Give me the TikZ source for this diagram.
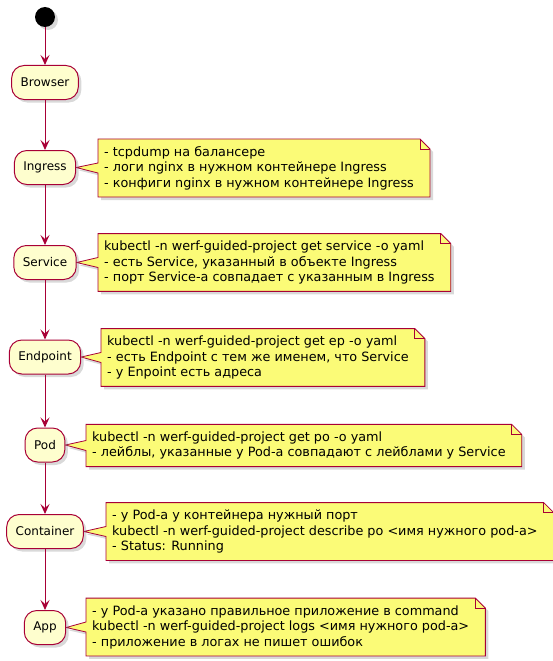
\documentclass[tikz,border=0pt]{standalone}
\usepackage{fontspec}
\setmainfont{DejaVu Sans}
\usetikzlibrary{arrows.meta,shadows,backgrounds}
\definecolor{umlred}{HTML}{A80036}
\definecolor{umlbox}{HTML}{FEFECE}
\definecolor{umlnote}{HTML}{FBFB77}
\tikzset{
  act/.style={draw=umlred, fill=umlbox, line width=1pt, rounded corners=12.5pt,
    minimum height=34pt, inner xsep=9pt, font=\fontsize{12}{14}\selectfont,
    drop shadow={opacity=0.3, shadow xshift=3pt, shadow yshift=-3pt}},
  notetext/.style={anchor=west, inner sep=0pt, align=left,
    font=\fontsize{12.8}{15.5}\selectfont},
  notebox/.style={draw=umlred, fill=umlnote, line width=0.8pt,
    drop shadow={opacity=0.3, shadow xshift=3pt, shadow yshift=-3pt}},
  flow/.style={->, draw=umlred, line width=1pt}
}
\begin{document}
\begin{tikzpicture}[x=1pt, y=-1pt, >={Stealth[length=10pt,width=9pt,inset=4pt]}]
    \useasboundingbox (0,0) rectangle (553,661);
    % activities
    \node[circle, fill=black, minimum size=20pt, inner sep=0pt,
      drop shadow={opacity=0.3, shadow xshift=3pt, shadow yshift=-3pt}] (start) at (45,17) {};
    \node[act] (browser) at (45,82.5) {Browser};
    \node[act] (ingress) at (45,167.5) {Ingress};
    \node[act] (service) at (45,262.5) {Service};
    \node[act] (endpoint) at (45,357) {Endpoint};
    \node[act] (pod) at (45,445) {Pod};
    \node[act] (container) at (45,531.5) {Container};
    \node[act] (app) at (45,627.5) {App};
    \draw[flow](start)--(browser);
    \draw[flow](browser)--(ingress);
    \draw[flow](ingress)--(service);
    \draw[flow](service)--(endpoint);
    \draw[flow](endpoint)--(pod);
    \draw[flow](pod)--(container);
    \draw[flow](container)--(app);
    % notes
    \node[notetext] (ningress) at (104,168) {- tcpdump на балансере\\- логи nginx в нужном контейнере Ingress\\- конфиги nginx в нужном контейнере Ingress};
    \node[notetext] (nservice) at (104,262.5) {kubectl -n werf-guided-project get service -o yaml\\- есть Service, указанный в объекте Ingress\\- порт Service-а совпадает с указанным в Ingress};
    \node[notetext] (nendpoint) at (107,357.5) {kubectl -n werf-guided-project get ep -o yaml\\- есть Endpoint с тем же именем, что Service\\- у Enpoint есть адреса};
    \node[notetext] (npod) at (92,445.5) {kubectl -n werf-guided-project get po -o yaml\\- лейблы, указанные у Pod-а совпадают с лейблами у Service};
    \node[notetext] (ncontainer) at (112,531.5) {- у Pod-а у контейнера нужный порт\\kubectl -n werf-guided-project describe po <имя нужного pod-а>\\- Status: Running};
    \node[notetext] (napp) at (92,627) {- у Pod-а указано правильное приложение в command\\kubectl -n werf-guided-project logs <имя нужного pod-а>\\- приложение в логах не пишет ошибок};
    \begin{scope}[on background layer]
    \foreach \a/\n in {ingress/ningress, service/nservice, endpoint/nendpoint,
        pod/npod, container/ncontainer, app/napp}{
      \path[notebox] ([xshift=-6pt,yshift=7pt]\n.north west)
        -- ([xshift=6pt,yshift=7pt]\n.north east)
        -- ([xshift=16pt,yshift=-3pt]\n.north east)
        -- ([xshift=16pt,yshift=-7pt]\n.south east)
        -- ([xshift=-6pt,yshift=-7pt]\n.south west)
        -- ([xshift=-6pt,yshift=-5pt]\n.west)
        -- (\a.east)
        -- ([xshift=-6pt,yshift=5pt]\n.west) -- cycle;
      \draw[umlred, line width=0.8pt] ([xshift=6pt,yshift=7pt]\n.north east)
        -- ([xshift=6pt,yshift=-3pt]\n.north east) -- ([xshift=16pt,yshift=-3pt]\n.north east);
    }
    \end{scope}
\end{tikzpicture}
\end{document}
